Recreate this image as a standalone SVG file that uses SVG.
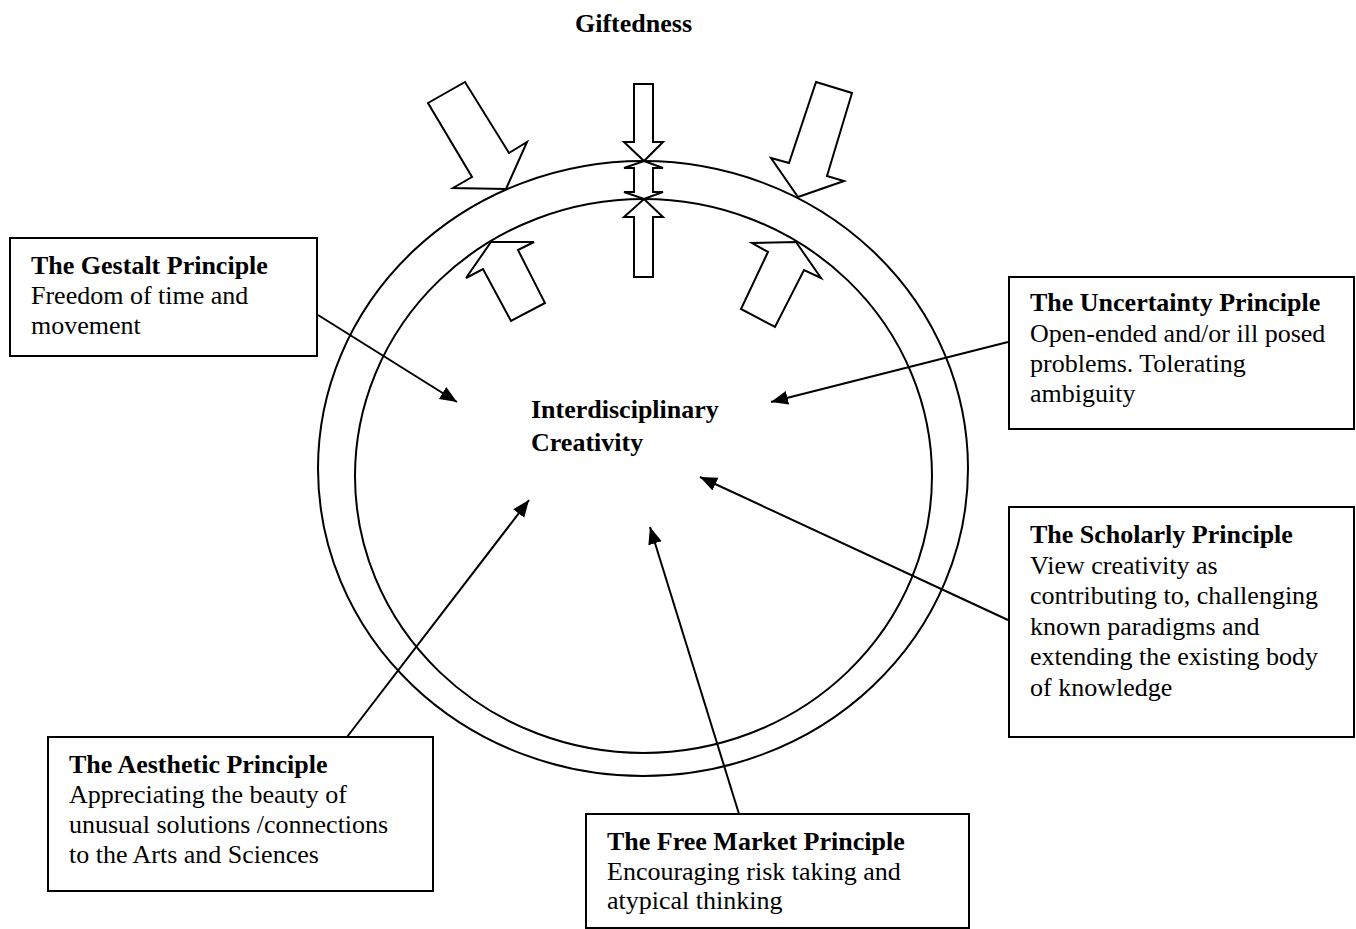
<svg xmlns="http://www.w3.org/2000/svg" width="1356" height="929" viewBox="0 0 1356 929">
<style>
.t{font-family:"Liberation Serif","Times New Roman",serif;font-size:26px;fill:#000}
.b{font-weight:bold}
.box{fill:#fff;stroke:#000;stroke-width:2}
.ring{fill:none;stroke:#000;stroke-width:2}
.blk{fill:#fff;stroke:#000;stroke-width:2;stroke-linejoin:miter}
.con{fill:none;stroke:#000;stroke-width:2;marker-end:url(#ah)}
</style>
<defs>
<marker id="ah" markerUnits="userSpaceOnUse" markerWidth="20" markerHeight="16" refX="17" refY="7" orient="auto">
<path d="M0,0 L17,7 L0,14 Z" fill="#000"/>
</marker>
</defs>
<rect width="1356" height="929" fill="#fff"/>
<text class="t b" x="575" y="32">Giftedness</text>
<g id="rings">
<ellipse class="ring" cx="643" cy="468.5" rx="325" ry="307.5"/>
<ellipse class="ring" cx="643.5" cy="476" rx="288.5" ry="277"/>
</g>
<g id="block-arrows">
<polygon class="blk" points="428,103 465,82 509,153 527,142 506,189 453,188 472,177"/>
<polygon class="blk" points="634,84 653,84 653,142 663,142 644,161 624,142 634,142"/>
<polygon class="blk" points="644,161 663,168 653,168 653,192 663,192 644,199 624,192 634,192 634,168 624,168"/>
<polygon class="blk" points="644,199 663,217 653,217 653,277 634,277 634,217 624,217"/>
<polygon class="blk" points="816,82 852,93 827,176 844,181 798,197 771,158 789,163"/>
<polygon class="blk" points="491,242 534,242 518,250 545,303 511,321 483,269 466,278"/>
<polygon class="blk" points="796,242 821,278 804,270 775,327 741,309 768,252 752,243"/>
</g>
<g id="center">
<text class="t b" x="531" y="418">Interdisciplinary</text>
<text class="t b" x="531" y="451">Creativity</text>
</g>
<g id="connectors">
<line class="con" x1="318" y1="315" x2="457" y2="402"/>
<line class="con" x1="1008" y1="342" x2="771" y2="402"/>
<line class="con" x1="1008" y1="620" x2="700" y2="477"/>
<line class="con" x1="347" y1="737" x2="529" y2="500"/>
<line class="con" x1="739" y1="814" x2="650" y2="527"/>
</g>
<g id="gestalt">
<rect class="box" x="10" y="238" width="307" height="118"/>
<text class="t b" x="31" y="274">The Gestalt Principle</text>
<text class="t" x="31" y="304">Freedom of time and</text>
<text class="t" x="31" y="334">movement</text>
</g>
<g id="uncertainty">
<rect class="box" x="1009" y="277" width="345" height="152"/>
<text class="t b" x="1030" y="311">The Uncertainty Principle</text>
<text class="t" x="1030" y="342">Open-ended and/or ill posed</text>
<text class="t" x="1030" y="372">problems. Tolerating</text>
<text class="t" x="1030" y="402">ambiguity</text>
</g>
<g id="scholarly">
<rect class="box" x="1009" y="507" width="345" height="230"/>
<text class="t b" x="1030" y="543">The Scholarly Principle</text>
<text class="t" x="1030" y="573.5">View creativity as</text>
<text class="t" x="1030" y="604">contributing to, challenging</text>
<text class="t" x="1030" y="634.5">known paradigms and</text>
<text class="t" x="1030" y="665">extending the existing body</text>
<text class="t" x="1030" y="695.5">of knowledge</text>
</g>
<g id="aesthetic">
<rect class="box" x="48" y="737" width="385" height="154"/>
<text class="t b" x="69" y="773">The Aesthetic Principle</text>
<text class="t" x="69" y="803">Appreciating the beauty of</text>
<text class="t" x="69" y="833">unusual solutions /connections</text>
<text class="t" x="69" y="863">to the Arts and Sciences</text>
</g>
<g id="freemarket">
<rect class="box" x="586" y="814" width="383" height="114"/>
<text class="t b" x="607" y="850">The Free Market Principle</text>
<text class="t" x="607" y="880">Encouraging risk taking and</text>
<text class="t" x="607" y="909">atypical thinking</text>
</g>
</svg>
